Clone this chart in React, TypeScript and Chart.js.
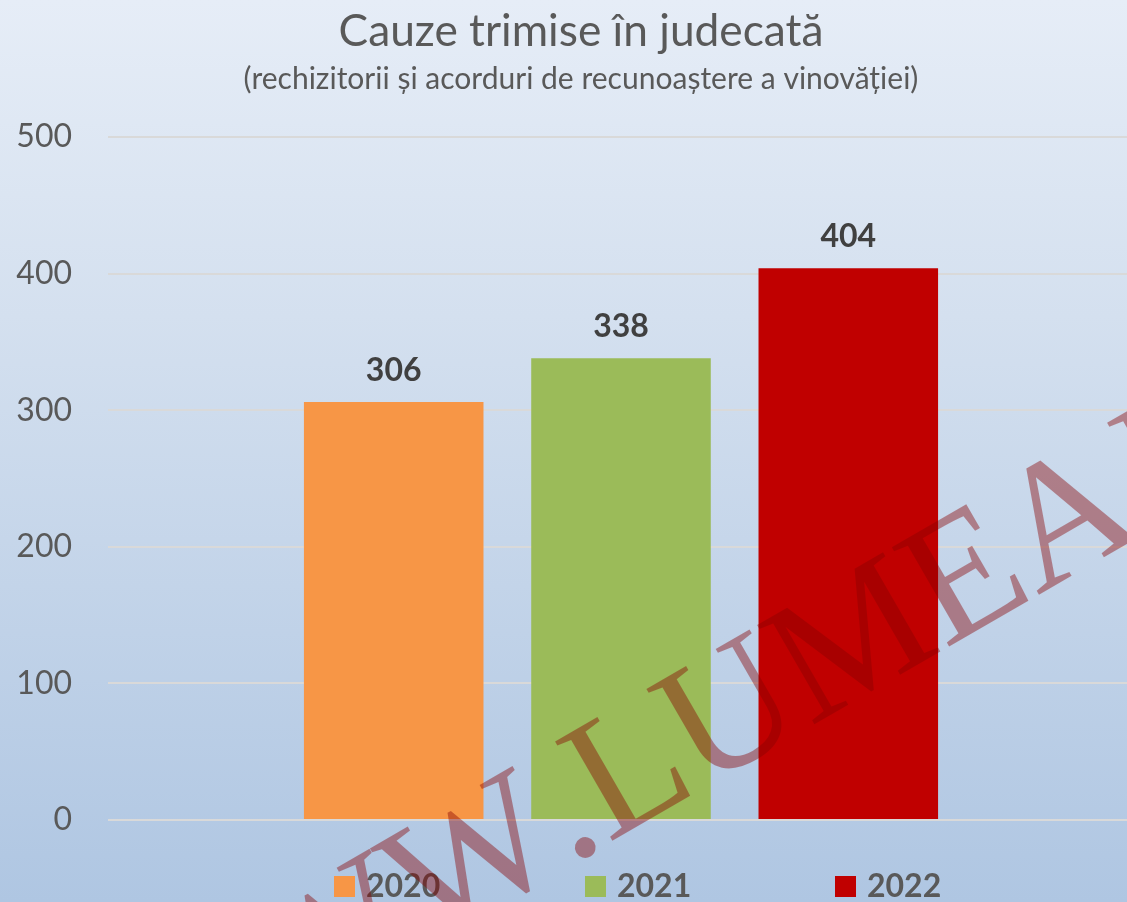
import React, { useEffect, useRef } from "react";
import { Chart, registerables } from "chart.js";

Chart.register(...registerables);

const categories = [""];
const seriesLabels = ["2020", "2021", "2022"];
const seriesValues = [306, 338, 404];
const seriesColors = ["#F79646", "#9BBB59", "#C00000"];
const yMin = 0;
const yMax = 500;
const yStep = 100;
const titleText = "Cauze trimise în judecată";
const subtitleText = "(rechizitorii și acorduri de recunoaștere a vinovăției)";
const watermarkText = "WWW.LUMEAJUSTITIEI.RO";

const FONT = "Lato, 'Open Sans', sans-serif";
const TEXT_GREY = "#595959";

function fitFont(ctx: CanvasRenderingContext2D, text: string, weight: string, target: number) {
  ctx.font = `${weight} 100px ${FONT}`;
  const w = ctx.measureText(text).width;
  const size = (100 * target) / w;
  return `${weight} ${size.toFixed(2)}px ${FONT}`;
}

const overlayPlugin = {
  id: "overlay",
  afterDatasetsDraw(chart: any) {
    const ctx: CanvasRenderingContext2D = chart.ctx;
    ctx.save();
    ctx.font = `bold 32px ${FONT}`;
    ctx.fillStyle = "#404040";
    ctx.textAlign = "center";
    ctx.textBaseline = "alphabetic";
    chart.data.datasets.forEach((ds: any, i: number) => {
      const meta = chart.getDatasetMeta(i);
      meta.data.forEach((bar: any, j: number) => {
        ctx.fillText(String(ds.data[j]), bar.x, bar.y - 21);
      });
    });
    ctx.restore();
  },
  afterDraw(chart: any) {
    const ctx: CanvasRenderingContext2D = chart.ctx;
    ctx.save();
    // Title & subtitle
    ctx.fillStyle = TEXT_GREY;
    ctx.textAlign = "center";
    ctx.textBaseline = "alphabetic";
    ctx.font = fitFont(ctx, titleText, "normal", 485);
    ctx.fillText(titleText, 581, 46);
    ctx.font = fitFont(ctx, subtitleText, "normal", 675);
    ctx.fillText(subtitleText, 581, 89);

    // Legend
    const legendX = [334, 585, 835];
    ctx.textAlign = "left";
    ctx.font = `bold 32px ${FONT}`;
    seriesLabels.forEach((lab, i) => {
      ctx.fillStyle = seriesColors[i];
      ctx.fillRect(legendX[i], 876, 21, 21);
      ctx.fillStyle = TEXT_GREY;
      ctx.fillText(lab, legendX[i] + 32, 897);
    });

    // Watermark
    ctx.translate(141, 1113);
    ctx.rotate(-Math.PI / 6);
    (ctx as any).fontKerning = "none";
    ctx.font = `normal 175px 'Liberation Serif', serif`;
    ctx.fillStyle = "rgba(135,0,0,0.42)";
    ctx.textAlign = "left";
    ctx.fillText(watermarkText, 0, 0);
    ctx.restore();
  },
};

export default function App() {
  const canvasRef = useRef<HTMLCanvasElement | null>(null);

  useEffect(() => {
    if (!canvasRef.current) return;
    const chart = new Chart(canvasRef.current, {
      type: "bar",
      data: {
        labels: categories,
        datasets: seriesLabels.map((lab, i) => ({
          label: lab,
          data: [seriesValues[i]],
          backgroundColor: seriesColors[i],
          borderWidth: 0,
          categoryPercentage: 0.6646,
          barPercentage: 0.79,
        })),
      },
      options: {
        animation: false,
        responsive: false,
        maintainAspectRatio: false,
        layout: { padding: { top: 137, bottom: 82, left: 0, right: 0 } },
        plugins: {
          legend: { display: false },
          title: { display: false },
          tooltip: { enabled: false },
        },
        scales: {
          x: { display: false },
          y: {
            min: yMin,
            max: yMax,
            ticks: {
              stepSize: yStep,
              padding: 36,
              color: TEXT_GREY,
              font: { family: FONT, size: 32 },
            },
            grid: { color: "#D9D9D9", lineWidth: 2, drawTicks: false },
            border: { display: false },
            afterFit(scale: any) {
              scale.width = 108;
            },
          },
        },
      },
      plugins: [overlayPlugin],
    });
    return () => chart.destroy();
  }, []);

  return (
    <div
      style={{
        position: "absolute",
        left: 0,
        top: 0,
        width: 1127,
        height: 902,
        background: "linear-gradient(180deg, #E6EDF7 0%, #D4E0EF 35%, #AFC6E2 100%)",
        overflow: "hidden",
      }}
    >
      <canvas ref={canvasRef} width={1134} height={902} style={{ display: "block" }} />
    </div>
  );
}
